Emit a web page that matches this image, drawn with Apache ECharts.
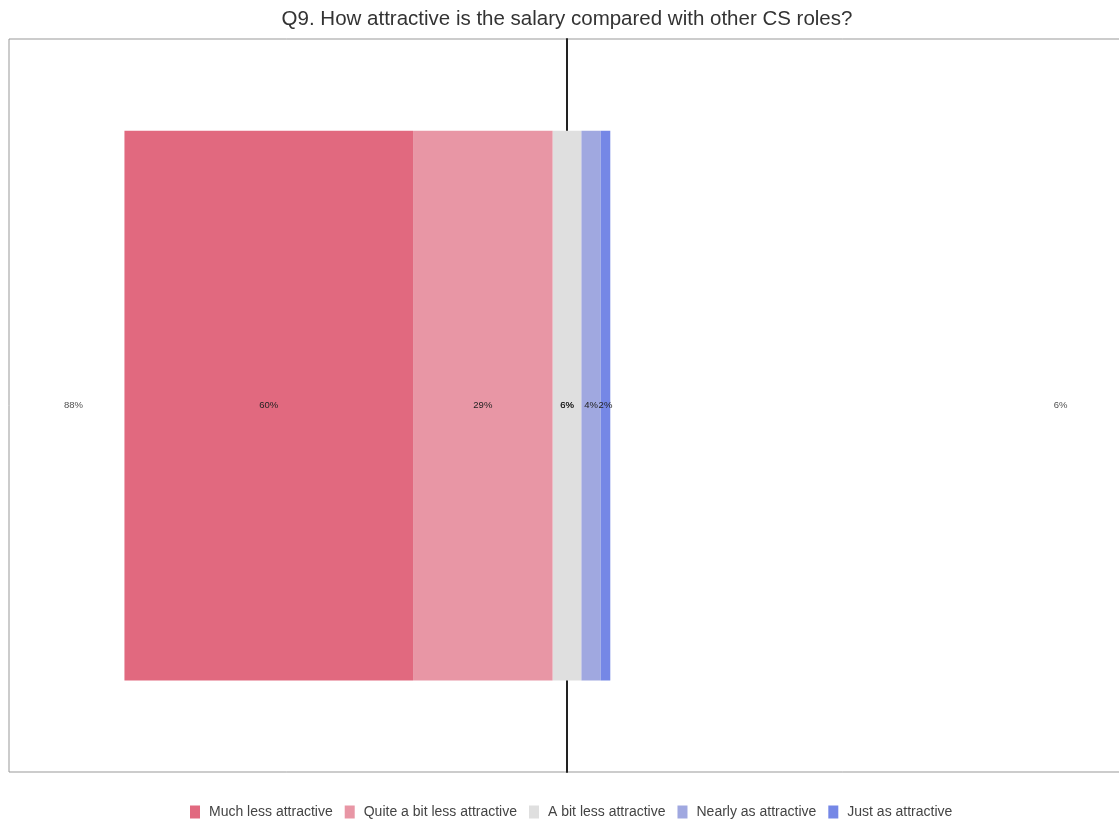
<!DOCTYPE html>
<html><head><meta charset="utf-8">
<script src="https://cdn.jsdelivr.net/npm/echarts@6/dist/echarts.min.js"></script>
<style>html,body{margin:0;padding:0;background:#fff}#c{width:1119px;height:823px}</style>
</head><body><div id="c"></div>
<script>
var title = 'Q9. How attractive is the salary compared with other CS roles?';
var categories = ['Q9'];
var responses = ['Much less attractive','Quite a bit less attractive','A bit less attractive','Nearly as attractive','Just as attractive'];
var muchLess = [60];
var quiteLess = [29];
var bitLess = [6];
var nearly = [4];
var just = [2];
var negTotal = ['88%'];
var posTotal = ['6%'];

var colors = ['#E1697F','#E896A5','#DFDFDF','#A0A8E0','#7587E6'];
var totalPos = 102.6;
var FF = 'Liberation Sans, Arial, sans-serif';
var lbl = {show:true, color:'#222', fontSize:9.5, fontFamily:FF, formatter:function(p){return Math.round(Math.abs(p.data.raw))+'%';}};
function seg(name, vals, sign, color, extra){
  return Object.assign({
    name:name, type:'bar', stack:'s', barWidth:'75%',
    itemStyle:{color:color},
    label:lbl, emphasis:{disabled:true},
    data: vals.map(function(v){return {value: sign*v, raw:v};})
  }, extra||{});
}
var half = bitLess.map(function(v){return v/2;});
var neutralLbl = function(pos){return Object.assign({}, lbl, {position:pos, align:'center', verticalAlign:'middle', formatter:function(p){return Math.round(p.data.raw*2)+'%';}});};

var chart = echarts.init(document.getElementById('c'));
chart.setOption({
  animation:false,
  title:{text:title, left:562, textAlign:'center', top:4, textStyle:{fontSize:20.5, fontWeight:'normal', color:'#333', fontFamily:FF}},
  legend:{data:responses, top:800, left:185, icon:'rect', itemWidth:10, itemHeight:13, itemGap:12,
    textStyle:{fontSize:14, color:'#444', fontFamily:FF, padding:[0,0,0,4]}},
  grid:{left:9, width:1116, top:39, height:733, show:true, borderColor:'#999', borderWidth:1, outerBoundsMode:'none', containLabel:false},
  xAxis:{type:'value', min:-116, max:116, axisLabel:{show:false}, axisTick:{show:false}, splitLine:{show:false}, axisLine:{show:false}},
  yAxis:{type:'category', data:categories, axisLabel:{show:false}, axisTick:{show:false},
    axisLine:{show:true, onZero:true, lineStyle:{color:'#222', width:2}}},
  series:[
    seg(responses[2], half, -1, colors[2], {label:neutralLbl(['100%','50%'])}),
    seg(responses[1], quiteLess, -1, colors[1]),
    seg(responses[0], muchLess, -1, colors[0]),
    seg(responses[2], half, 1, colors[2], {label:neutralLbl(['0%','50%'])}),
    seg(responses[3], nearly, 1, colors[3]),
    seg(responses[4], just, 1, colors[4]),
    {type:'scatter', symbolSize:0, silent:true, z:5,
      label:{show:true, position:'inside', color:'#222', fontSize:9.5, fontFamily:FF, formatter:function(p){return p.data[2];}},
      data:[[-totalPos, categories[0], negTotal[0]],[totalPos, categories[0], posTotal[0]]]}
  ]
});
</script></body></html>
